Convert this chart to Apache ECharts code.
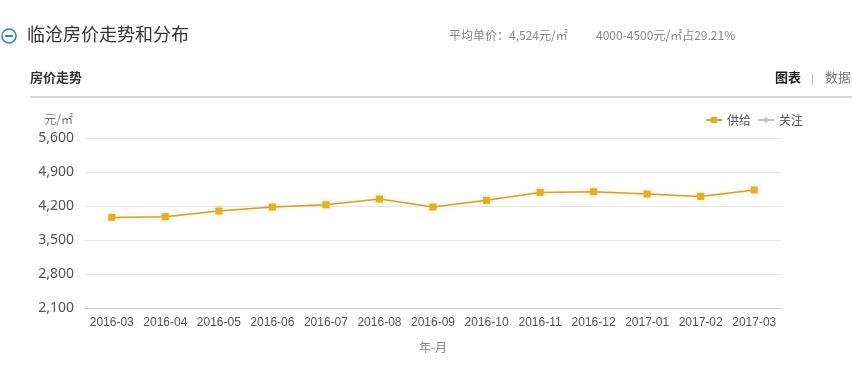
<!DOCTYPE html>
<html><head><meta charset="utf-8">
<script src="https://cdn.jsdelivr.net/npm/echarts@6/dist/echarts.min.js"></script>
<style>html,body{margin:0;padding:0;background:#fff}#c{width:852px;height:367px}</style>
</head><body><div id="c"></div>
<script>
var categories = ['2016-03','2016-04','2016-05','2016-06','2016-07','2016-08','2016-09','2016-10','2016-11','2016-12','2017-01','2017-02','2017-03'];
var supplyValues = [3965,3980,4097,4180,4227,4344,4180,4316,4480,4495,4447,4398,4530];
var attentionValues = [];
var yTicks = {min:2100, max:5600, interval:700};
var font = '"Noto Sans CJK SC","Noto Sans",sans-serif';
var chart = echarts.init(document.getElementById('c'));
chart.setOption({
  backgroundColor:'#fff',
  animation:false,
  textStyle:{fontFamily:font},
  graphic:[
    {type:'circle',shape:{cx:9,cy:36,r:7},style:{fill:'#fff',stroke:'#3a7fc4',lineWidth:1.6}},
    {type:'rect',shape:{x:5,y:35,width:8,height:2},style:{fill:'#3a7fc4'}},
    {type:'text',left:27,top:25,style:{text:'临沧房价走势和分布',font:'18px '+font,fill:'#333'}},
    {type:'text',left:449,top:29,style:{text:'平均单价：4,524元/㎡',font:'12px '+font,fill:'#888'}},
    {type:'text',left:596,top:29,style:{text:'4000-4500元/㎡占29.21%',font:'12px '+font,fill:'#888'}},
    {type:'text',left:30,top:71,style:{text:'房价走势',font:'bold 13px '+font,fill:'#333'}},
    {type:'text',left:775,top:71,style:{text:'图表',font:'bold 13px '+font,fill:'#222'}},
    {type:'rect',shape:{x:812,y:74,width:1,height:11},style:{fill:'#bbb'}},
    {type:'text',left:825,top:71,style:{text:'数据',font:'13px '+font,fill:'#777'}},
    {type:'rect',shape:{x:30,y:96,width:822,height:2},style:{fill:'#d6d6d6'}}
  ],
  legend:{
    right:44, top:109, itemWidth:16, itemHeight:8, itemGap:6,
    textStyle:{color:'#555',fontSize:12},
    data:['供给','关注']
  },
  grid:{left:85,right:71,top:138,bottom:59},
  xAxis:{
    type:'category', data:categories, boundaryGap:true,
    name:'年-月', nameLocation:'middle', nameGap:33,
    nameTextStyle:{color:'#888',fontSize:12},
    axisLine:{lineStyle:{color:'#ccc'}},
    axisTick:{alignWithLabel:true,length:5,lineStyle:{color:'#ccc'}},
    axisLabel:{color:'#555',fontSize:12,margin:9,interval:0,fontFamily:'"Liberation Sans",Arial,sans-serif'}
  },
  yAxis:{
    type:'value', min:yTicks.min, max:yTicks.max, interval:yTicks.interval,
    name:'元/㎡', nameGap:13, nameTextStyle:{color:'#777',fontSize:12,align:'right',padding:[0,12,0,0]},
    axisLine:{show:false}, axisTick:{show:false},
    axisLabel:{color:'#555',fontSize:14,margin:11,padding:[2,0,0,0],fontFamily:'"Noto Sans",sans-serif',formatter:function(v){return v.toLocaleString('en-US');}},
    splitLine:{lineStyle:{color:'#e6e6e6'}}
  },
  series:[
    {name:'供给',type:'line',data:supplyValues,symbol:'rect',symbolSize:7,
     itemStyle:{color:'#e0b02a',shadowColor:'rgba(240,190,40,0.5)',shadowBlur:4},
     lineStyle:{color:'#c9a23a',width:1.5,shadowColor:'rgba(245,200,60,0.45)',shadowBlur:4}},
    {name:'关注',type:'line',data:attentionValues,symbol:'diamond',symbolSize:7,
     itemStyle:{color:'#c0c4cc'},lineStyle:{color:'#c0c4cc',width:1.5}}
  ]
});
</script></body></html>
